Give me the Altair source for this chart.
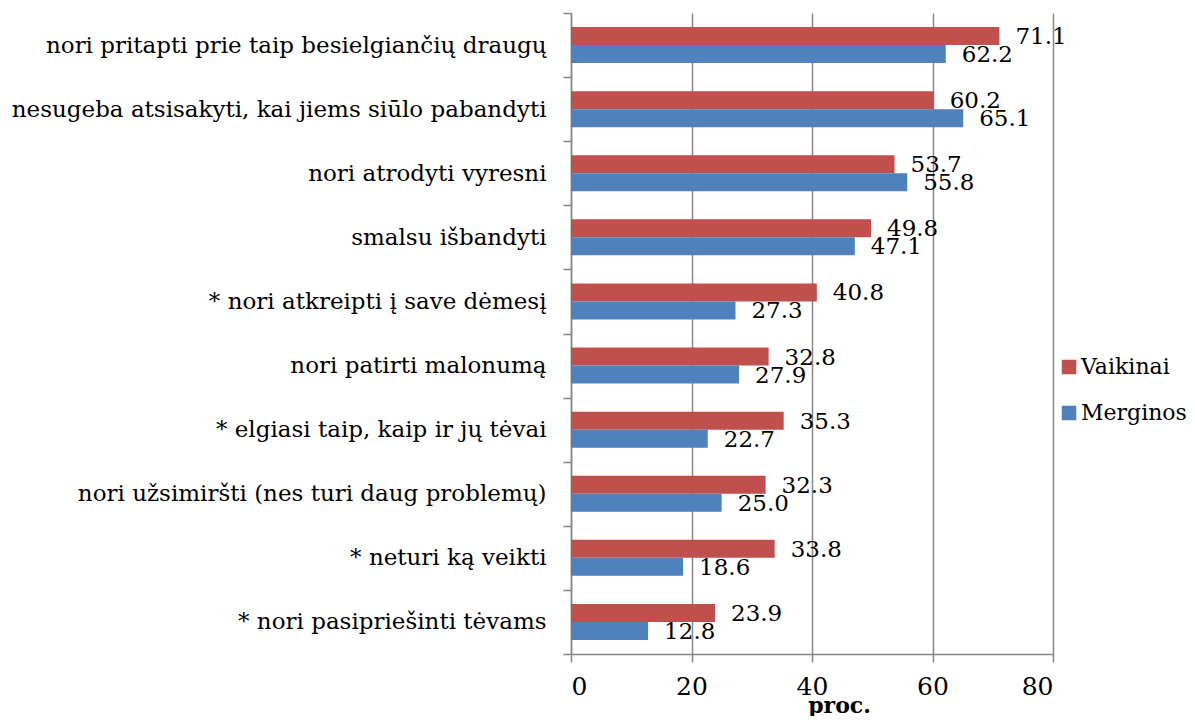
import altair as alt
import pandas as pd

categories = [
    "nori pritapti prie taip besielgiančių draugų",
    "nesugeba atsisakyti, kai jiems siūlo pabandyti",
    "nori atrodyti vyresni",
    "smalsu išbandyti",
    "* nori atkreipti į save dėmesį",
    "nori patirti malonumą",
    "* elgiasi taip, kaip ir jų tėvai",
    "nori užsimiršti (nes turi daug problemų)",
    "* neturi ką veikti",
    "* nori pasipriešinti tėvams",
]
vaikinai = [71.1, 60.2, 53.7, 49.8, 40.8, 32.8, 35.3, 32.3, 33.8, 23.9]
merginos = [62.2, 65.1, 55.8, 47.1, 27.3, 27.9, 22.7, 25.0, 18.6, 12.8]
series = ["Vaikinai", "Merginos"]
colors = ["#C0504D", "#4F81BD"]
x_ticks = [0, 20, 40, 60, 80]

rows = []
for c, v, m in zip(categories, vaikinai, merginos):
    rows.append({"cat": c, "series": "Vaikinai", "value": v})
    rows.append({"cat": c, "series": "Merginos", "value": m})
df = pd.DataFrame(rows)

FONT = "DejaVu Serif"
GRID = "#878787"

y_enc = alt.Y(
    "cat:N",
    sort=categories,
    scale=alt.Scale(paddingInner=0, paddingOuter=0),
    axis=alt.Axis(
        title=None,
        tickBand="extent",
        labelFont=FONT,
        labelFontSize=23,
        labelColor="black",
        labelPadding=17,
        labelLimit=700,
        tickSize=8,
        tickColor=GRID,
        tickWidth=1.5,
        domainColor=GRID,
        domainWidth=1.5,
        grid=False,
    ),
)
yoff_enc = alt.YOffset(
    "series:N",
    sort=series,
    scale=alt.Scale(domain=series, paddingInner=0, paddingOuter=0.78),
)
x_enc = alt.X(
    "value:Q",
    scale=alt.Scale(domain=[0, 80], nice=False),
    axis=alt.Axis(
        values=x_ticks,
        grid=True,
        gridColor=GRID,
        gridWidth=1.5,
        tickSize=8,
        tickColor=GRID,
        tickWidth=1.5,
        domainColor=GRID,
        domainWidth=1.5,
        labelFont=FONT,
        labelFontSize=25,
        labelColor="black",
        labelPadding=12,
        title="proc.",
        titleFont=FONT,
        titleFontSize=22,
        titleFontWeight="bold",
        titleColor="black",
        titleX=268,
        titleY=58,
        titleAlign="center",
        titleBaseline="alphabetic",
    ),
)

bars = alt.Chart(df).mark_bar().encode(
    y=y_enc,
    yOffset=yoff_enc,
    x=x_enc,
    color=alt.Color(
        "series:N",
        scale=alt.Scale(domain=series, range=colors),
        legend=alt.Legend(
            title=None,
            orient="none",
            legendX=487,
            legendY=343,
            symbolType="square",
            symbolSize=210,
            symbolStrokeWidth=0,
            labelFont=FONT,
            labelFontSize=22,
            labelColor="black",
            labelOffset=1,
            rowPadding=24,
            padding=0,
        ),
    ),
)

labels = alt.Chart(df).mark_text(
    align="left", baseline="middle", dx=16, dy=1, font=FONT, fontSize=23, color="black"
).encode(
    y=alt.Y("cat:N", sort=categories),
    yOffset=alt.YOffset("series:N", sort=series),
    x=alt.X("value:Q"),
    text=alt.Text("value:Q", format=".1f"),
)

chart = (
    alt.layer(bars, labels)
    .properties(
        width=482,
        height=641,
        autosize="none",
        padding={"left": 563, "top": 5, "right": 134, "bottom": 62},
        background="white",
    )
    .configure(font=FONT)
    .configure_view(strokeWidth=0)
)

chart.save("out.html", embed_options={"renderer": "svg", "actions": False})
